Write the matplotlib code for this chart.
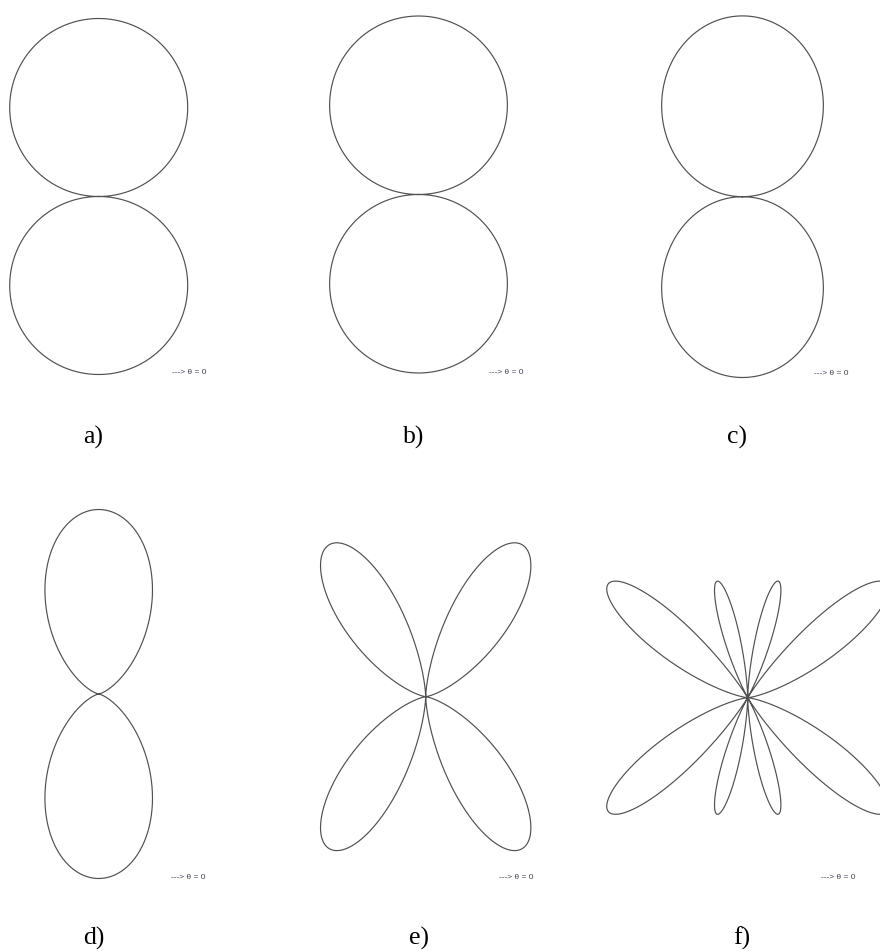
import numpy as np
import matplotlib
matplotlib.use("Agg")
import matplotlib.pyplot as plt

# Dipole lengths (in wavelengths) for each panel
panel_labels = ["a)", "b)", "c)", "d)", "e)", "f)"]
dipole_lengths = [0.01, 0.1, 0.5, 1.0, 2.0, 4.0]
direction_label = "---> θ = 0"

# layout (pixels): pattern centre, radius of the normalized maximum
centers = [(98.7, 196.5), (418.5, 194.5), (742.5, 196.7),
           (98.7, 694.0), (425.7, 696.7), (747.7, 697.7)]
radii = [178.0, 178.5, 180.8, 184.5, 180.0, 180.0]
label_pos = [(83, 444), (403, 444), (727, 444),
             (83, 945), (409, 945), (733, 945)]
dir_pos = [(172, 374), (489, 374), (814, 375),
           (171, 879), (499, 879), (821, 879)]

W, H = 880, 951
fig = plt.figure(figsize=(W / 100, H / 100), dpi=100)
fig.patch.set_facecolor("white")

theta = np.linspace(0, 2 * np.pi, 4001)


def pattern(L, th):
    kl2 = np.pi * L
    s = np.sin(th)
    s = np.where(np.abs(s) < 1e-9, 1e-9, s)
    f = np.abs((np.cos(kl2 * np.cos(th)) - np.cos(kl2)) / s)
    return f / f.max()


half = 230.0  # half-size of each panel axes in pixels
for L, (cx, cy), R in zip(dipole_lengths, centers, radii):
    left = (cx - half) / W
    bottom = (H - cy - half) / H
    ax = fig.add_axes([left, bottom, 2 * half / W, 2 * half / H])
    ax.set_xlim(-half / R, half / R)
    ax.set_ylim(-half / R, half / R)
    ax.axis("off")
    ax.patch.set_alpha(0)
    r = pattern(L, theta)
    ax.plot(r * np.cos(theta), r * np.sin(theta), color="#505050", lw=0.85,
            clip_on=False)

for txt, (x, y) in zip(panel_labels, label_pos):
    fig.text(x / W, 1 - y / H, txt, family="Liberation Serif", fontsize=18.5,
             ha="left", va="baseline", color="black")

for (x, y) in dir_pos:
    fig.text(x / W, 1 - y / H, direction_label, family="Liberation Sans",
             fontsize=6, ha="left", va="baseline", color="#404052")

fig.savefig("out.png", dpi=100, facecolor="white")
